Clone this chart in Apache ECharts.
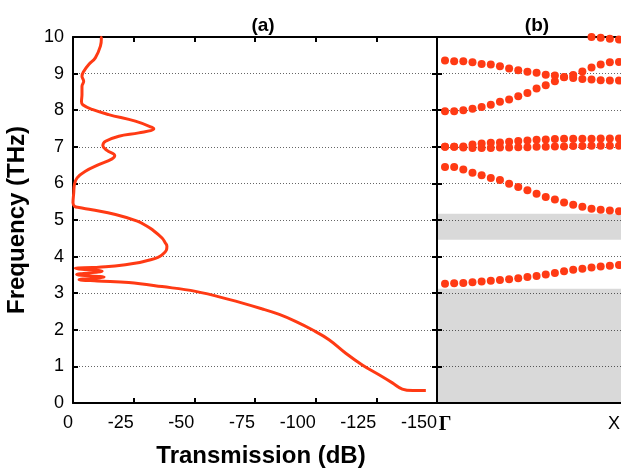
<!DOCTYPE html>
<html>
<head>
<meta charset="utf-8">
<script src="https://cdn.jsdelivr.net/npm/echarts@6/dist/echarts.min.js"></script>
<style>
  html, body { margin: 0; padding: 0; background: #fff; }
  #chart { width: 621px; height: 468px; }
</style>
</head>
<body>
<div id="chart"></div>
<script>
// Panel (a): transmission spectrum as [transmission (dB), frequency (THz)], ordered by frequency
const transmission = [
  [-145.4, 0.34], [-140.0, 0.34], [-135.7, 0.38], [-131.6, 0.55], [-126.1, 0.77],
  [-119.2, 1.04], [-112.4, 1.36], [-105.5, 1.73], [-98.6, 2.00], [-91.7, 2.23],
  [-85.0, 2.42], [-78.0, 2.57], [-64.2, 2.83], [-50.5, 3.05], [-36.7, 3.18],
  [-23.0, 3.29], [-10.0, 3.335], [-2.5, 3.37], [-12.8, 3.44], [-1.5, 3.51],
  [-12.0, 3.60], [-1.0, 3.68], [-8.0, 3.70], [-13.4, 3.72], [-21.6, 3.78],
  [-27.5, 3.84], [-31.2, 3.90], [-35.0, 3.98], [-36.7, 4.05], [-38.5, 4.18],
  [-38.7, 4.28], [-38.0, 4.38], [-36.7, 4.51], [-32.6, 4.74], [-30.0, 4.85],
  [-26.5, 4.97], [-17.5, 5.15], [-7.8, 5.28], [-2.5, 5.34], [-0.7, 5.37],
  [0.0, 5.47], [-0.3, 5.74], [-0.6, 5.97], [-1.7, 6.15], [-5.1, 6.33],
  [-10.6, 6.51], [-16.1, 6.67], [-17.2, 6.76], [-14.0, 6.90], [-12.3, 7.03],
  [-13.4, 7.15], [-18.9, 7.29], [-27.1, 7.38], [-33.3, 7.49], [-32.6, 7.53],
  [-25.7, 7.70], [-14.7, 7.88], [-7.9, 8.02], [-4.0, 8.15], [-3.5, 8.24],
  [-3.7, 8.43], [-3.7, 8.65], [-4.4, 8.79], [-3.7, 8.93], [-4.4, 9.06],
  [-6.5, 9.25], [-9.2, 9.43], [-11.3, 9.75], [-11.7, 9.97], [-11.2, 10.0]
];

// Panel (b): band frequencies (THz) at evenly spaced k-points from Γ to X
const band1 = [3.26, 3.27, 3.28, 3.30, 3.32, 3.34, 3.36, 3.38, 3.41, 3.44,
               3.47, 3.51, 3.55, 3.60, 3.64, 3.67, 3.70, 3.73, 3.75, 3.77];
const band2 = [6.45, 6.45, 6.38, 6.29, 6.22, 6.15, 6.09, 5.99, 5.90, 5.81,
               5.72, 5.63, 5.56, 5.48, 5.42, 5.36, 5.31, 5.28, 5.26, 5.24];
const band3 = [7.00, 7.00, 6.98, 6.97, 6.97, 6.97, 6.98, 6.98, 6.99, 6.99,
               7.00, 7.00, 7.01, 7.01, 7.02, 7.02, 7.03, 7.03, 7.03, 7.03];
const band4 = [7.00, 7.00, 7.01, 7.06, 7.09, 7.11, 7.12, 7.14, 7.16, 7.17,
               7.19, 7.20, 7.21, 7.22, 7.22, 7.22, 7.22, 7.23, 7.23, 7.23];
const band5 = [7.97, 7.97, 8.00, 8.04, 8.09, 8.15, 8.23, 8.29, 8.38, 8.47,
               8.59, 8.68, 8.79, 8.90, 8.96, 9.06, 9.17, 9.25, 9.31, 9.32];
const band6 = [9.36, 9.34, 9.34, 9.31, 9.26, 9.25, 9.20, 9.14, 9.09, 9.05,
               9.02, 8.97, 8.95, 8.91, 8.88, 8.85, 8.84, 8.82, 8.81, 8.81];
const band7 = [null, null, null, null, null, null, null, null, null, null,
               null, null, null, null, null, null, 10.0, 9.98, 9.95, 9.93];
const bands = [band1, band2, band3, band4, band5, band6, band7];

// Band gaps (THz), shaded in panel (b)
const bandGaps = [[0, 3.12], [4.46, 5.17]];

// High-symmetry points on the k axis
const symPointLabels = ['Γ', 'X'];
const symPointPositions = [0, 1];

const freqMin = 0, freqMax = 10, freqStep = 1;
const transMin = -150, transMax = 0, transStep = 25;

const RED = '#ff3a14';
const FONT = '"Liberation Sans", Arial, sans-serif';

const chart = echarts.init(document.getElementById('chart'), null, { renderer: 'canvas' });

const kStep = 1 / (band1.length - 1);
const bandSeries = bands.map((b, idx) => {
  const pts = [];
  b.forEach((f, i) => { if (f !== null) pts.push([i * kStep, f]); });
  const s = {
    type: 'scatter',
    xAxisIndex: 2,
    yAxisIndex: 2,
    symbol: 'circle',
    symbolSize: 8,
    itemStyle: { color: RED, opacity: 1 },
    data: pts,
    z: 3
  };
  if (idx === 0) {
    s.markArea = {
      silent: true,
      itemStyle: { color: 'rgba(0,0,0,0.15)' },
      data: bandGaps.map(g => [{ yAxis: g[0] }, { yAxis: g[1] }])
    };
  }
  return s;
});

const axisLine = () => ({ show: true, onZero: false, lineStyle: { color: '#000', width: 2 } });
const tickInside = () => ({ show: true, inside: true, length: 5, lineStyle: { color: '#000', width: 2 } });
const dotted = () => ({ show: true, lineStyle: { color: '#666', width: 1, type: [1, 2] } });

const option = {
  animation: false,
  backgroundColor: '#fff',
  title: [
    { text: '(a)', left: 258, top: 11, textAlign: 'center',
      textStyle: { fontFamily: FONT, fontWeight: 'bold', fontSize: 19, color: '#000' } },
    { text: '(b)', left: 532, top: 11, textAlign: 'center',
      textStyle: { fontFamily: FONT, fontWeight: 'bold', fontSize: 19, color: '#000' } }
  ],
  grid: [
    { left: 73, top: 37, width: 364, height: 366, outerBoundsMode: 'none', containLabel: false },
    { left: 437, top: 37, width: 190, height: 366, outerBoundsMode: 'none', containLabel: false }
  ],
  xAxis: [
    {
      type: 'value', gridIndex: 0, position: 'bottom', inverse: true,
      min: transMin, max: transMax, interval: transStep,
      axisLine: axisLine(), axisTick: tickInside(), splitLine: { show: false },
      axisLabel: { fontFamily: FONT, fontSize: 18, color: '#000', margin: 11, align: 'right' },
      name: 'Transmission (dB)', nameLocation: 'middle', nameGap: 41,
      nameTextStyle: { fontFamily: FONT, fontWeight: 'bold', fontSize: 24, color: '#000', padding: [0, 0, 0, 12] }
    },
    {
      type: 'value', gridIndex: 0, position: 'top', inverse: true,
      min: transMin, max: transMax, interval: transStep,
      axisLine: axisLine(), axisTick: tickInside(), axisLabel: { show: false }, splitLine: { show: false }
    },
    {
      type: 'value', gridIndex: 1, position: 'bottom',
      min: -0.046, max: 1.046,
      axisLine: axisLine(), axisTick: { show: false }, splitLine: { show: false },
      axisLabel: {
        customValues: symPointPositions,
        margin: 12,
        formatter: v => {
          const i = symPointPositions.indexOf(v);
          if (i < 0) return '';
          return i === 0 ? '{g|' + symPointLabels[i] + '}' : '{x|' + symPointLabels[i] + '}';
        },
        rich: {
          g: { fontFamily: '"Liberation Serif", "Times New Roman", serif', fontWeight: 'bold', fontSize: 20, color: '#000' },
          x: { fontFamily: FONT, fontSize: 18, color: '#000', padding: [0, 10, 0, 0] }
        }
      }
    },
    {
      type: 'value', gridIndex: 1, position: 'top',
      min: -0.046, max: 1.046,
      axisLine: axisLine(), axisTick: { show: false }, axisLabel: { show: false }, splitLine: { show: false }
    }
  ],
  yAxis: [
    {
      type: 'value', gridIndex: 0, position: 'left',
      min: freqMin, max: freqMax, interval: freqStep,
      axisLine: axisLine(), axisTick: tickInside(), splitLine: dotted(),
      axisLabel: { fontFamily: FONT, fontSize: 18, color: '#000', margin: 9 },
      name: 'Frequency (THz)', nameLocation: 'middle', nameGap: 44,
      nameTextStyle: { fontFamily: FONT, fontWeight: 'bold', fontSize: 24, color: '#000' }
    },
    {
      type: 'value', gridIndex: 0, position: 'right',
      min: freqMin, max: freqMax, interval: freqStep,
      axisLine: axisLine(), axisTick: tickInside(), axisLabel: { show: false }, splitLine: { show: false }
    },
    {
      type: 'value', gridIndex: 1, position: 'left',
      min: freqMin, max: freqMax, interval: freqStep,
      axisLine: axisLine(), axisTick: tickInside(), axisLabel: { show: false }, splitLine: dotted()
    }
  ],
  series: [
    {
      type: 'line',
      xAxisIndex: 0,
      yAxisIndex: 0,
      data: transmission,
      showSymbol: false,
      smooth: 0.4,
      lineStyle: { color: RED, width: 3 },
      z: 3
    }
  ].concat(bandSeries)
};

chart.setOption(option);
</script>
</body>
</html>
